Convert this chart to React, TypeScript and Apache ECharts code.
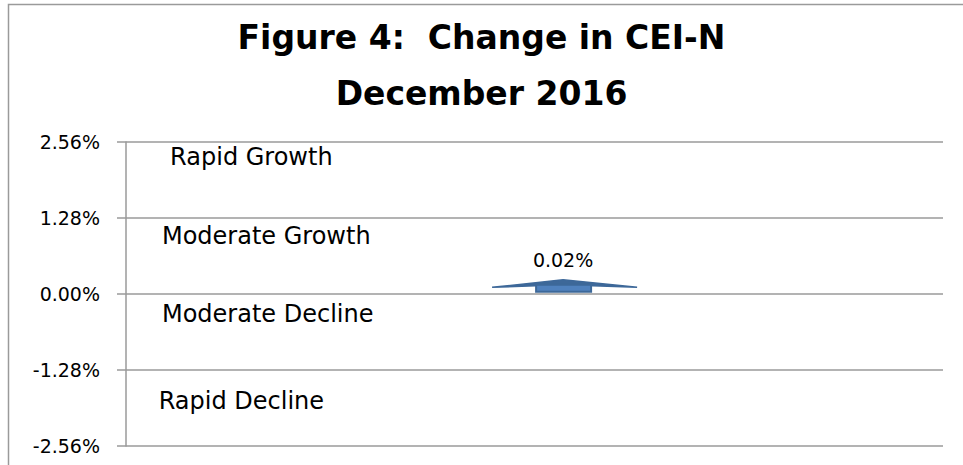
import React, { useEffect, useRef } from "react";
import * as echarts from "echarts";

// ---- data ----
const titleLines = ["Figure 4:  Change in CEI-N", "December 2016"];
const yTickValues = [-2.56, -1.28, 0, 1.28, 2.56];
const changeCategories = ["December 2016"];
const changeValues = [0.02];
const zoneNames = ["Rapid Growth", "Moderate Growth", "Moderate Decline", "Rapid Decline"];

// annotation placement (x in % of plot width, y in axis units)
const zoneAnchorX = [5.4, 4.4, 4.4, 4.0];
const zoneAnchorY = [2.31, 0.98, -0.34, -1.8];
const arrowAnchorX = 53.5;

const FONT = "DejaVu Sans";

export default function App() {
  const ref = useRef<HTMLDivElement>(null);
  useEffect(() => {
    if (!ref.current) return;
    const chart = echarts.init(ref.current, undefined, { renderer: "svg" });
    const step = yTickValues[1] - yTickValues[0];
    const option: any = {
      animation: false,
      backgroundColor: "#ffffff",
      title: {
        text: titleLines.join("\n"),
        left: "center",
        top: 4,
        textStyle: {
          fontFamily: FONT,
          fontWeight: "bold",
          fontSize: 33,
          lineHeight: 56,
          color: "#000000",
        },
      },
      graphic: [
        {
          type: "rect",
          shape: { x: 8.5, y: 4.5, width: 1200, height: 1000 },
          style: { fill: "none", stroke: "#9a9a9a", lineWidth: 1.5 },
          silent: true,
          z: -1,
        },
      ],
      grid: { left: 126, right: 20, top: 142, bottom: 19, containLabel: false },
      xAxis: {
        type: "value",
        min: 0,
        max: 100,
        show: false,
      },
      yAxis: {
        type: "value",
        min: yTickValues[0],
        max: yTickValues[yTickValues.length - 1],
        interval: step,
        axisLine: { show: true, lineStyle: { color: "#9a9a9a", width: 1.5 } },
        axisTick: { show: true, length: 9, lineStyle: { color: "#9a9a9a", width: 1.5 } },
        axisLabel: {
          margin: 26,
          fontFamily: FONT,
          fontSize: 19,
          color: "#000000",
          formatter: (v: number) => v.toFixed(2) + "%",
        },
        splitLine: { show: true, lineStyle: { color: "#9a9a9a", width: 1.5 } },
      },
      series: [
        {
          type: "scatter",
          name: "zones",
          symbolSize: 0,
          silent: true,
          itemStyle: { opacity: 1 },
          data: zoneNames.map((n, i) => ({ name: n, value: [zoneAnchorX[i], zoneAnchorY[i]] })),
          label: {
            show: true,
            position: "right",
            distance: 0,
            formatter: (p: any) => p.name,
            fontFamily: FONT,
            fontSize: 24,
            color: "#000000",
          },
        },
        {
          type: "custom",
          name: changeCategories[0],
          data: changeValues.map((v) => [arrowAnchorX, v]),
          renderItem: (params: any, api: any) => {
            const cx = api.coord([api.value(0), 0])[0];
            const yv = api.coord([0, api.value(1)])[1];
            const val = api.value(1) as number;
            return {
              type: "group",
              children: [
                {
                  type: "polygon",
                  shape: {
                    points: [
                      [cx - 71, yv - 5.5],
                      [cx, yv - 13],
                      [cx + 74, yv - 5.5],
                      [cx, yv - 8],
                    ],
                  },
                  style: { fill: "#3d6899", stroke: "#3d6899", lineWidth: 1.5 },
                },
                {
                  type: "rect",
                  shape: { x: cx - 27, y: yv - 8, width: 55, height: 7 },
                  style: { fill: "#4f81bd", stroke: "#3d6899", lineWidth: 2 },
                },
                {
                  type: "text",
                  style: {
                    text: val.toFixed(2) + "%",
                    x: cx,
                    y: yv - 33,
                    align: "center",
                    verticalAlign: "middle",
                    fontFamily: FONT,
                    fontSize: 19,
                    fill: "#000000",
                  },
                },
              ],
            };
          },
        },
      ],
    };
    chart.setOption(option);
    return () => chart.dispose();
  }, []);
  return (
    <div
      ref={ref}
      style={{ position: "absolute", left: 0, top: 0, width: 963, height: 465 }}
    />
  );
}
